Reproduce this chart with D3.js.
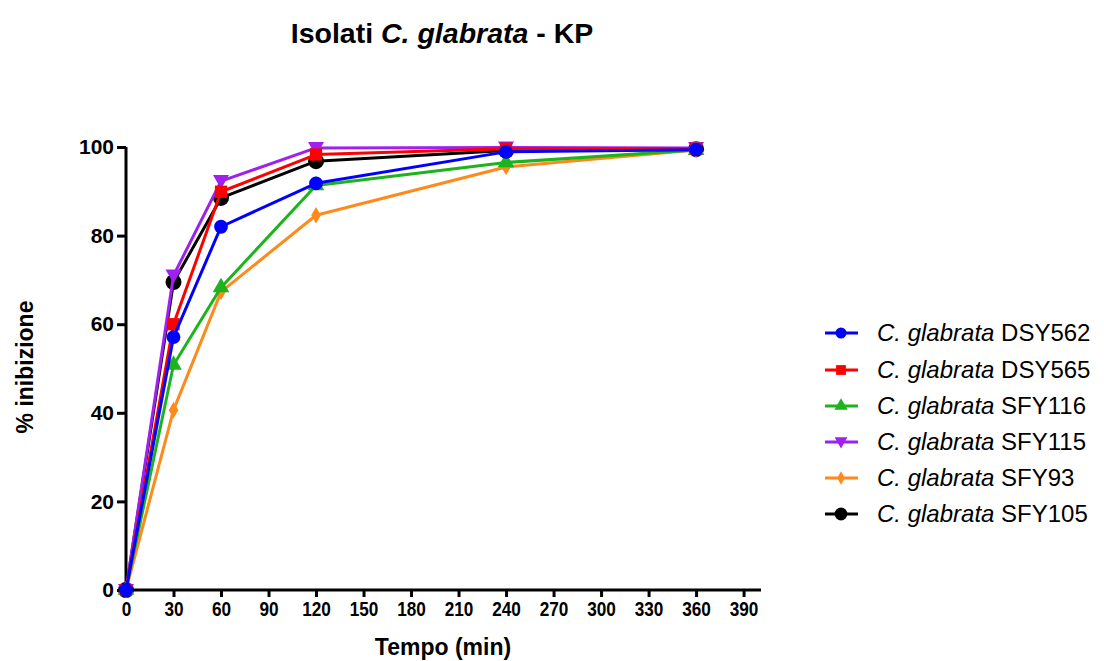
<!DOCTYPE html>
<html><head><meta charset="utf-8">
<script src="https://cdn.jsdelivr.net/npm/d3@7"></script>
<style>body{margin:0;background:#fff}svg{display:block}text{font-family:"Liberation Sans",Arial,sans-serif}</style>
</head><body>
<svg id="c" width="1104" height="661"></svg>
<script>
const times = [0, 30, 60, 120, 240, 360];
const seriesNames = ["DSY562", "DSY565", "SFY116", "SFY115", "SFY93", "SFY105"];
const dsy562 = [0, 57.1, 82.0, 91.8, 98.9, 99.4];
const dsy565 = [0, 60.0, 89.9, 98.3, 99.6, 99.6];
const sfy116 = [0, 50.8, 68.3, 91.3, 96.5, 99.3];
const sfy115 = [0, 71.0, 92.3, 99.8, 99.9, 99.8];
const sfy93  = [0, 40.6, 67.3, 84.6, 95.5, 99.3];
const sfy105 = [0, 69.5, 88.5, 96.8, 99.2, 99.5];
const xTicks = [0,30,60,90,120,150,180,210,240,270,300,330,360,390];
const yTicks = [0,20,40,60,80,100];
const colors = ["#0000ff","#ff0000","#1db31d","#a020f0","#ff8a1c","#000000"];
const shapes = ["circle","square","triangle","triangleDown","diamond","bigcircle"];
const values = [dsy562, dsy565, sfy116, sfy115, sfy93, sfy105];

const svg = d3.select("#c");
const x = d3.scaleLinear().domain([0, 401]).range([126, 761]);
const y = d3.scaleLinear().domain([0, 100]).range([590, 147]);

// title
const tt = svg.append("text").attr("x",442).attr("y",43).attr("text-anchor","middle")
  .attr("font-size",28.5).attr("font-weight","bold");
tt.append("tspan").text("Isolati ");
tt.append("tspan").attr("font-style","italic").text("C. glabrata");
tt.append("tspan").text(" - KP");

// axes
const xAxis = d3.axisBottom(x).tickValues(xTicks).tickSize(7).tickSizeOuter(0).tickPadding(5);
const gx = svg.append("g").attr("transform","translate(0,590)").call(xAxis);
gx.select(".domain").attr("stroke-width",3).attr("d","M126,0H761");
gx.selectAll(".tick line").attr("stroke-width",3);
gx.selectAll(".tick text").attr("font-size",20).attr("font-weight","bold").attr("fill","#000")
  .attr("transform","scale(0.86,1)")
  .style("font-family","'Liberation Sans',Arial,sans-serif");

const yAxis = d3.axisLeft(y).tickValues(yTicks).tickSize(9).tickSizeOuter(0).tickPadding(3);
const gy = svg.append("g").attr("transform","translate(126,0)").call(yAxis);
gy.select(".domain").attr("stroke-width",3).attr("d","M0,590V147");
gy.selectAll(".tick line").attr("stroke-width",3);
gy.selectAll(".tick text").attr("font-size",21).attr("font-weight","bold").attr("fill","#000")
  .style("font-family","'Liberation Sans',Arial,sans-serif");

svg.append("text").attr("x",443).attr("y",655).attr("text-anchor","middle")
  .attr("font-size",23).attr("font-weight","bold").text("Tempo (min)");
svg.append("text").attr("transform","translate(33,367) rotate(-90)").attr("text-anchor","middle")
  .attr("font-size",23).attr("font-weight","bold").text("% inibizione");

function symbolPath(shape){
  switch(shape){
    case "circle": return d3.symbol(d3.symbolCircle, 150)();
    case "bigcircle": return d3.symbol(d3.symbolCircle, 200)();
    case "square": return d3.symbol(d3.symbolSquare, 150)();
    case "triangle": return d3.symbol(d3.symbolTriangle, 120)();
    case "triangleDown": return "M0,8L-8,-6H8Z";
    case "diamond": return d3.symbol(d3.symbolDiamond, 80)();
  }
}

const line = d3.line().x((d,i)=>x(times[i])).y(d=>y(d));
const order = [5,4,3,2,1,0];
order.forEach(k=>{
  const g = svg.append("g");
  g.append("path").attr("d", line(values[k])).attr("fill","none")
   .attr("stroke", colors[k]).attr("stroke-width",3).attr("stroke-linejoin","round");
  g.selectAll("path.m").data(values[k]).enter().append("path").attr("class","m")
   .attr("transform",(d,i)=>`translate(${x(times[i])},${y(d)})`)
   .attr("d", symbolPath(shapes[k])).attr("fill", colors[k]);
});

// legend
const legY = [333, 370, 406, 442, 478, 514];
seriesNames.forEach((nm,k)=>{
  const g = svg.append("g").attr("transform",`translate(0,${legY[k]})`);
  g.append("line").attr("x1",825).attr("x2",858).attr("stroke",colors[k]).attr("stroke-width",3);
  g.append("path").attr("transform","translate(841,0) scale(0.8)").attr("d",symbolPath(shapes[k])).attr("fill",colors[k]);
  const t = g.append("text").attr("x",877).attr("y",8).attr("font-size",24).attr("fill","#000");
  t.append("tspan").attr("font-style","italic").text("C. glabrata");
  t.append("tspan").text(" " + nm);
});
</script>
</body></html>
